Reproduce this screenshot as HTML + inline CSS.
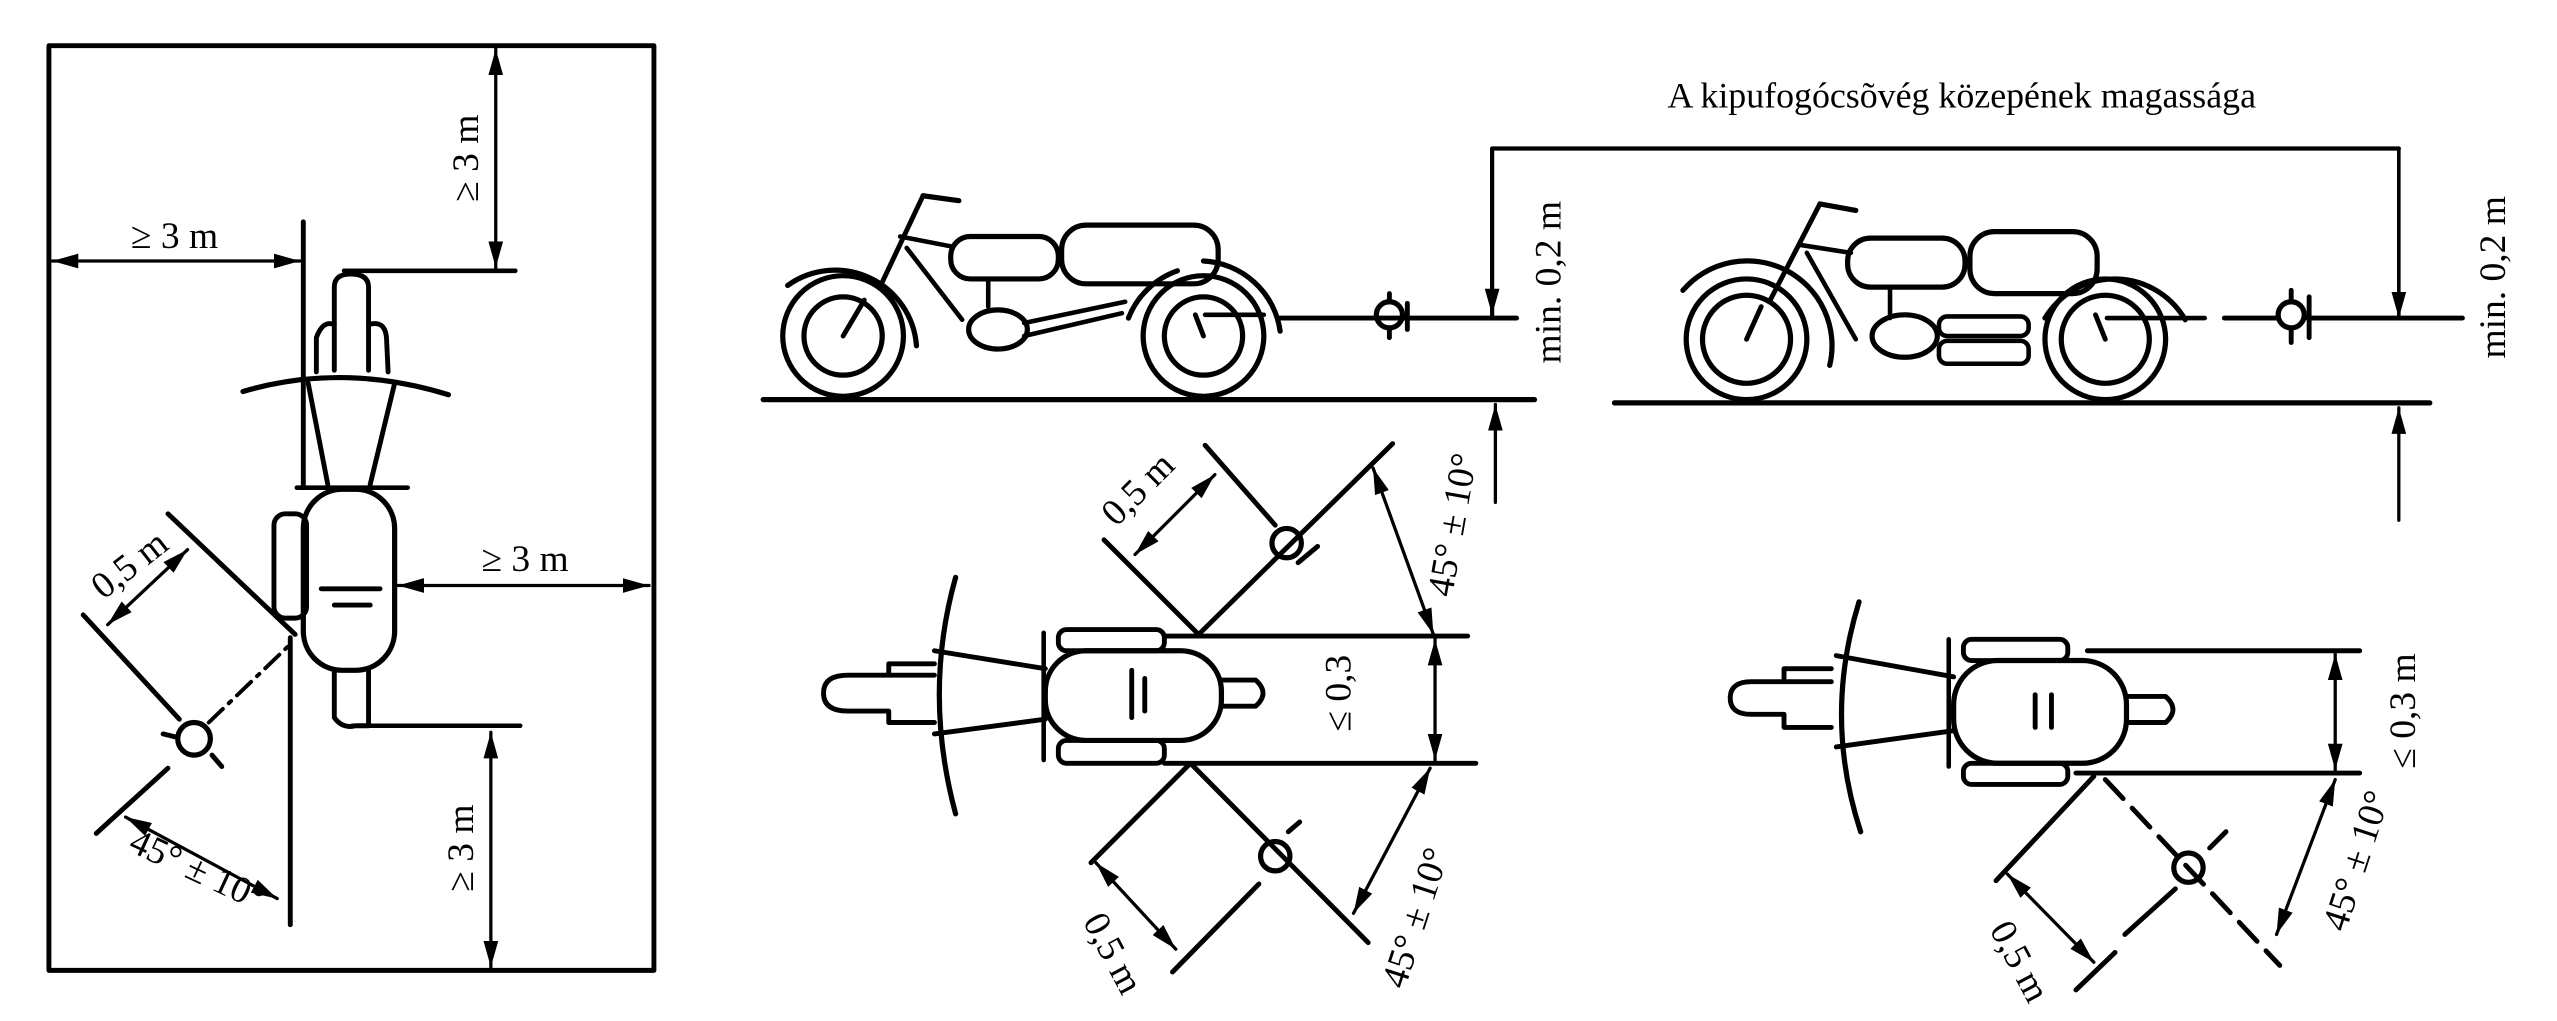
<!DOCTYPE html>
<html><head><meta charset="utf-8"><style>
html,body{margin:0;padding:0;background:#fff;}
svg{display:block;}
text{font-family:"Liberation Serif","DejaVu Serif",serif;fill:#000;}
</style></head><body>
<svg width="2557" height="1021" viewBox="0 0 1568 626" xmlns="http://www.w3.org/2000/svg">
<defs>
<marker id="a" viewBox="0 0 16 9" refX="16" refY="4.5" markerWidth="16" markerHeight="9" markerUnits="userSpaceOnUse" orient="auto-start-reverse"><path d="M0,0 L16,4.5 L0,9 Z" fill="#000"/></marker>
</defs>
<g fill="none" stroke="#000" stroke-linecap="round" stroke-linejoin="round">
<!-- LEFT BOX -->
<rect x="30" y="28" width="371" height="567" stroke-width="3"/>
<line x1="304" y1="30" x2="304" y2="164" stroke-width="2" marker-start="url(#a)" marker-end="url(#a)"/>
<line x1="211" y1="166" x2="316" y2="166" stroke-width="2.8"/>
<line x1="32" y1="160" x2="184" y2="160" stroke-width="2" marker-start="url(#a)" marker-end="url(#a)"/>
<line x1="186" y1="136" x2="186" y2="299" stroke-width="3"/>
<line x1="178" y1="391" x2="178" y2="567" stroke-width="3"/>
<!-- bike top -->
<path d="M205,227 L205,176 Q205,168 215,168 Q226,168 226,176 L226,227" stroke-width="3"/>
<path d="M194,228 L194,207 Q198,196 205,199 M226,199 Q236,196 237,207 L238,228" stroke-width="3"/>
<path d="M149,240 Q210,222 275,242" stroke-width="3.2"/>
<line x1="189" y1="235" x2="201" y2="297" stroke-width="3"/>
<line x1="242" y1="235" x2="227" y2="297" stroke-width="3"/>
<line x1="182" y1="299" x2="250" y2="299" stroke-width="2.8"/>
<rect x="186" y="300" width="56" height="111" rx="24" stroke-width="3.2"/>
<rect x="168" y="315" width="20" height="64" rx="7" stroke-width="3"/>
<line x1="197" y1="361" x2="233" y2="361" stroke-width="3"/>
<line x1="205" y1="371" x2="227" y2="371" stroke-width="3"/>
<path d="M205,411 L205,440 Q210,447 218,445 L226,445 L226,411" stroke-width="3"/>
<line x1="216" y1="445" x2="319" y2="445" stroke-width="2.8"/>
<line x1="301" y1="449" x2="301" y2="593" stroke-width="2" marker-start="url(#a)" marker-end="url(#a)"/>
<line x1="244" y1="359" x2="398" y2="359" stroke-width="2" marker-start="url(#a)" marker-end="url(#a)"/>
<!-- left exhaust -->
<line x1="103" y1="315" x2="181" y2="389" stroke-width="3"/>
<line x1="51" y1="377" x2="110" y2="441" stroke-width="3"/>
<line x1="128" y1="443" x2="178" y2="395" stroke-width="2.4" stroke-dasharray="12,5,2,5"/>
<circle cx="119" cy="453" r="10" stroke-width="3.2"/>
<line x1="100" y1="450" x2="108" y2="452" stroke-width="3"/><line x1="130" y1="463" x2="136" y2="470" stroke-width="3"/>
<line x1="66" y1="383" x2="115" y2="337" stroke-width="2" marker-start="url(#a)" marker-end="url(#a)"/>
<line x1="59" y1="511" x2="103" y2="471" stroke-width="3"/>
<line x1="77" y1="501" x2="170" y2="551" stroke-width="2" marker-start="url(#a)" marker-end="url(#a)"/>

<!-- MIDDLE side view -->
<line x1="468" y1="245" x2="941" y2="245" stroke-width="3.2"/>
<circle cx="517" cy="206" r="37" stroke-width="3.2"/><circle cx="517" cy="206" r="24" stroke-width="3.2"/>
<line x1="517" y1="206" x2="530" y2="184" stroke-width="3"/>
<path d="M483,175 A50,50 0 0 1 562,212" stroke-width="3.2"/>
<line x1="566" y1="120" x2="588" y2="123" stroke-width="3.2"/>
<line x1="566" y1="120" x2="541" y2="173" stroke-width="3"/>
<line x1="552" y1="145" x2="583" y2="151" stroke-width="2.8"/>
<line x1="556" y1="152" x2="590" y2="196" stroke-width="2.8"/>
<rect x="583" y="145" width="66" height="26" rx="12" stroke-width="3.2"/>
<rect x="651" y="138" width="96" height="36" rx="15" stroke-width="3.2"/>
<line x1="606" y1="171" x2="606" y2="188" stroke-width="2.8"/>
<ellipse cx="612" cy="202" rx="18" ry="12" stroke-width="3.2"/>
<path d="M628,198 L690,185 M628,206 L688,192" stroke-width="2.8"/>
<circle cx="738" cy="206" r="37" stroke-width="3.2"/><circle cx="738" cy="206" r="24" stroke-width="3.2"/>
<line x1="738" y1="206" x2="733" y2="193" stroke-width="3"/>
<path d="M692,195 A50,50 0 0 1 722,166 M738,160 A50,50 0 0 1 785,203" stroke-width="3.2"/>
<line x1="739" y1="193" x2="775" y2="193" stroke-width="2.8"/>
<line x1="785" y1="195" x2="930" y2="195" stroke-width="3"/>
<circle cx="852" cy="193" r="8" stroke-width="3.2"/>
<line x1="852" y1="180" x2="852" y2="185" stroke-width="3"/><line x1="863" y1="186" x2="863" y2="202" stroke-width="3"/><line x1="852" y1="201" x2="852" y2="207" stroke-width="3"/>
<polyline points="1471,91 915,91 915,193" stroke-width="2.6" marker-end="url(#a)"/>
<line x1="917" y1="308" x2="917" y2="248" stroke-width="2" marker-end="url(#a)"/>
<!-- MIDDLE top view -->
<path d="M586,354 Q566,425 586,499" stroke-width="3.2"/>
<path d="M573,414 L520,414 Q505,414 505,425 Q505,436 520,436 L545,436 L545,443 L573,443 M545,414 L545,407 L573,407" stroke-width="3"/>
<line x1="573" y1="399" x2="641" y2="410" stroke-width="3"/>
<line x1="573" y1="450" x2="641" y2="441" stroke-width="3"/>
<line x1="640" y1="388" x2="640" y2="466" stroke-width="2.8"/>
<rect x="641" y="399" width="108" height="55" rx="25" stroke-width="3.2"/>
<rect x="649" y="386" width="65" height="13" rx="5" stroke-width="3"/>
<rect x="649" y="454" width="65" height="14" rx="5" stroke-width="3"/>
<path d="M749,417 L770,417 Q779,425 770,433 L749,433" stroke-width="3"/>
<line x1="694" y1="411" x2="694" y2="440" stroke-width="3"/><line x1="702" y1="416" x2="702" y2="436" stroke-width="3"/>
<line x1="714" y1="390" x2="900" y2="390" stroke-width="3"/>
<line x1="714" y1="468" x2="905" y2="468" stroke-width="3"/>
<line x1="880" y1="392" x2="880" y2="466" stroke-width="2" marker-start="url(#a)" marker-end="url(#a)"/>
<line x1="677" y1="331" x2="735" y2="389" stroke-width="3"/>
<line x1="739" y1="273" x2="782" y2="322" stroke-width="3"/>
<line x1="735" y1="389" x2="854" y2="272" stroke-width="3"/>
<circle cx="789" cy="333" r="9" stroke-width="3.2"/>
<line x1="796" y1="345" x2="808" y2="335" stroke-width="3"/>
<line x1="696" y1="340" x2="745" y2="291" stroke-width="2" marker-start="url(#a)" marker-end="url(#a)"/>
<line x1="842" y1="287" x2="879" y2="389" stroke-width="2" marker-start="url(#a)" marker-end="url(#a)"/>
<line x1="731" y1="469" x2="839" y2="578" stroke-width="3"/>
<line x1="729" y1="469" x2="669" y2="529" stroke-width="3"/>
<line x1="719" y1="596" x2="772" y2="542" stroke-width="3"/>
<circle cx="782" cy="525" r="9" stroke-width="3.2"/>
<line x1="790" y1="510" x2="797" y2="504" stroke-width="3"/>
<line x1="672" y1="529" x2="721" y2="582" stroke-width="2" marker-start="url(#a)" marker-end="url(#a)"/>
<line x1="877" y1="471" x2="830" y2="560" stroke-width="2" marker-start="url(#a)" marker-end="url(#a)"/>

<!-- RIGHT side view -->
<line x1="990" y1="247" x2="1490" y2="247" stroke-width="3.2"/>
<circle cx="1071" cy="208" r="37" stroke-width="3.2"/><circle cx="1071" cy="208" r="27" stroke-width="3.2"/>
<line x1="1071" y1="208" x2="1080" y2="188" stroke-width="3"/>
<path d="M1032,178 A52,52 0 0 1 1122,224" stroke-width="3.2"/>
<line x1="1116" y1="125" x2="1138" y2="129" stroke-width="3.2"/>
<line x1="1116" y1="125" x2="1085" y2="185" stroke-width="3"/>
<line x1="1103" y1="150" x2="1135" y2="155" stroke-width="2.8"/>
<line x1="1108" y1="155" x2="1138" y2="208" stroke-width="2.8"/>
<rect x="1133" y="146" width="72" height="30" rx="14" stroke-width="3.2"/>
<rect x="1208" y="142" width="78" height="38" rx="15" stroke-width="3.2"/>
<line x1="1159" y1="176" x2="1159" y2="195" stroke-width="2.8"/>
<ellipse cx="1168" cy="206" rx="20" ry="13" stroke-width="3.2"/>
<rect x="1189" y="194" width="55" height="12" rx="5" stroke-width="2.8"/>
<rect x="1189" y="209" width="55" height="14" rx="5" stroke-width="2.8"/>
<circle cx="1291" cy="208" r="37" stroke-width="3.2"/><circle cx="1291" cy="208" r="27" stroke-width="3.2"/>
<line x1="1291" y1="208" x2="1285" y2="193" stroke-width="3"/>
<path d="M1254,195 A50,50 0 0 1 1340,196" stroke-width="3.2"/>
<line x1="1292" y1="195" x2="1352" y2="195" stroke-width="2.8"/>
<line x1="1364" y1="195" x2="1396" y2="195" stroke-width="3"/>
<line x1="1415" y1="195" x2="1510" y2="195" stroke-width="3"/>
<circle cx="1405" cy="193" r="8" stroke-width="3.2"/>
<line x1="1405" y1="178" x2="1405" y2="184" stroke-width="3"/><line x1="1416" y1="182" x2="1416" y2="207" stroke-width="3"/><line x1="1405" y1="202" x2="1405" y2="210" stroke-width="3"/>
<line x1="1471" y1="91" x2="1471" y2="195" stroke-width="2.2" marker-end="url(#a)"/>
<line x1="1471" y1="319" x2="1471" y2="250" stroke-width="2" marker-end="url(#a)"/>
<!-- RIGHT top view -->
<path d="M1140,369 Q1118,440 1141,510" stroke-width="3.2"/>
<path d="M1123,418 L1074,418 Q1061,418 1061,428 Q1061,438 1074,438 L1094,438 L1094,446 L1123,446 M1094,418 L1094,410 L1123,410" stroke-width="3"/>
<line x1="1126" y1="402" x2="1198" y2="415" stroke-width="3"/>
<line x1="1126" y1="458" x2="1198" y2="448" stroke-width="3"/>
<line x1="1195" y1="392" x2="1195" y2="470" stroke-width="2.8"/>
<rect x="1198" y="405" width="106" height="63" rx="27" stroke-width="3.2"/>
<rect x="1204" y="392" width="64" height="13" rx="5" stroke-width="3"/>
<rect x="1204" y="468" width="64" height="13" rx="5" stroke-width="3"/>
<path d="M1304,427 L1328,427 Q1337,435 1328,443 L1304,443" stroke-width="3"/>
<line x1="1248" y1="426" x2="1248" y2="446" stroke-width="3"/><line x1="1258" y1="426" x2="1258" y2="446" stroke-width="3"/>
<line x1="1280" y1="399" x2="1447" y2="399" stroke-width="3"/>
<line x1="1273" y1="474" x2="1447" y2="474" stroke-width="3"/>
<line x1="1432" y1="401" x2="1432" y2="472" stroke-width="2" marker-start="url(#a)" marker-end="url(#a)"/>
<line x1="1284" y1="476" x2="1224" y2="540" stroke-width="3"/>
<line x1="1291" y1="478" x2="1398" y2="592" stroke-width="3" stroke-dasharray="16,8"/>
<circle cx="1342" cy="532" r="9" stroke-width="3.2"/>
<line x1="1355" y1="520" x2="1365" y2="510" stroke-width="3"/>
<line x1="1303" y1="573" x2="1334" y2="545" stroke-width="3"/>
<line x1="1273" y1="607" x2="1297" y2="584" stroke-width="3"/>
<line x1="1231" y1="536" x2="1284" y2="590" stroke-width="2" marker-start="url(#a)" marker-end="url(#a)"/>
<line x1="1432" y1="478" x2="1396" y2="573" stroke-width="2" marker-start="url(#a)" marker-end="url(#a)"/>
</g>

<!-- TEXT -->
<g font-size="23">
<text transform="translate(293,97) rotate(-90)" text-anchor="middle">≥ 3 m</text>
<text x="107" y="152" text-anchor="middle">≥ 3 m</text>
<text x="322" y="350" text-anchor="middle">≥ 3 m</text>
<text transform="translate(290,520) rotate(-90)" text-anchor="middle">≥ 3 m</text>
<text transform="translate(84,352) rotate(-38)" text-anchor="middle">0,5 m</text>
<text transform="translate(118,540) rotate(25)" text-anchor="middle">45° ± 10°</text>

<text transform="translate(957,173) rotate(-90)" text-anchor="middle">min. 0,2 m</text>
<text transform="translate(1536,170) rotate(-90)" text-anchor="middle">min. 0,2 m</text>
<text x="1203" y="66" text-anchor="middle" font-size="22">A kipufogócsõvég közepének magassága</text>

<text transform="translate(828,425) rotate(-90)" text-anchor="middle">≤ 0,3</text>
<text transform="translate(703,305) rotate(-45)" text-anchor="middle">0,5 m</text>
<text transform="translate(898,323) rotate(-80)" text-anchor="middle">45° ± 10°</text>
<text transform="translate(676,588) rotate(62)" text-anchor="middle">0,5 m</text>
<text transform="translate(875,565) rotate(-72)" text-anchor="middle">45° ± 10°</text>

<text transform="translate(1481,436) rotate(-90)" text-anchor="middle">≤ 0,3 m</text>
<text transform="translate(1232,593) rotate(62)" text-anchor="middle">0,5 m</text>
<text transform="translate(1452,530) rotate(-72)" text-anchor="middle">45° ± 10°</text>
</g>
</svg>
</body></html>
